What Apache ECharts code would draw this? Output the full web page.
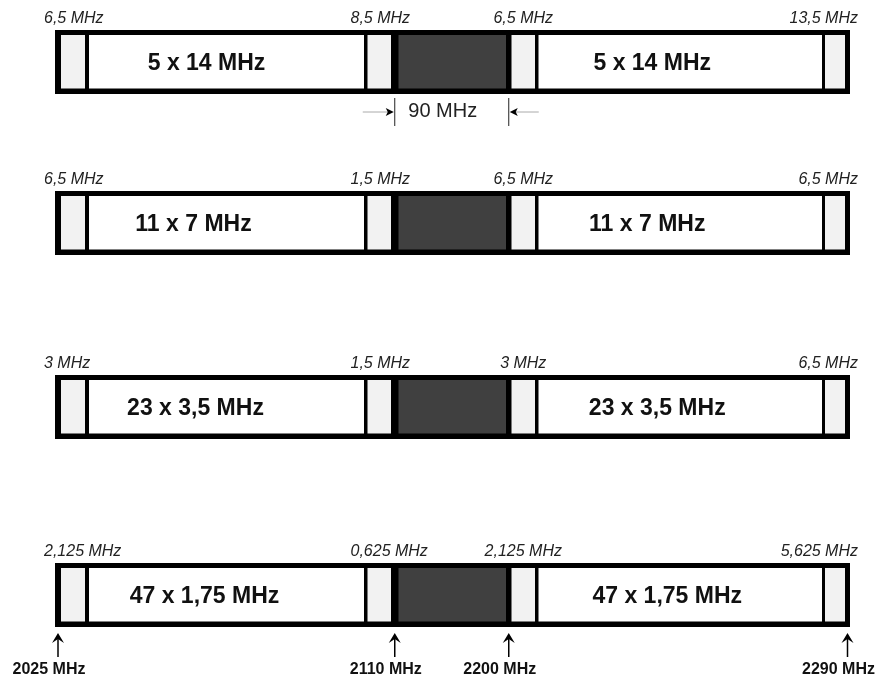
<!DOCTYPE html>
<html>
<head>
<meta charset="utf-8">
<script src="https://cdn.jsdelivr.net/npm/echarts@6/dist/echarts.min.js"></script>
<style>
  html, body { margin: 0; padding: 0; background: #ffffff; }
  #chart { width: 878px; height: 680px; }
</style>
</head>
<body>
<div id="chart"></div>
<script>
// ---------------- data ----------------
const channelCounts   = [5, 11, 23, 47];          // channels per half-band, per row
const channelWidths   = [14, 7, 3.5, 1.75];       // MHz per channel
const lowerGuardStart = [6.5, 6.5, 3, 2.125];     // MHz, guard at 2025 MHz side
const lowerGuardEnd   = [8.5, 1.5, 1.5, 0.625];   // MHz, guard at 2110 MHz side
const upperGuardStart = [6.5, 6.5, 3, 2.125];     // MHz, guard at 2200 MHz side
const upperGuardEnd   = [13.5, 6.5, 6.5, 5.625];  // MHz, guard at 2290 MHz side
const bandEdges       = [2025, 2110, 2200, 2290]; // MHz markers

// ---------------- schematic layout (diagram is not to scale) ----------------
// drawing widths of the strips of one band-plan bar, in schematic units
const SEGMENTS = [
  ['border', 6], ['guard', 24], ['sep', 4], ['chan', 275], ['sep', 3.5],
  ['guard', 23.5], ['sep', 7.5], ['gap', 107.5], ['sep', 5.5], ['guard', 23.5],
  ['sep', 3.5], ['chan', 283.5], ['sep', 3], ['guard', 20], ['border', 5]
];
const EDGE_SEGMENT = [0, 6, 8, 14];   // black strips where the band edges sit
const ROW_TOP = [30, 191, 375, 563];
const ROW_H = 64;
const FONT = '"Liberation Sans", Arial, Helvetica, sans-serif';

// guard label anchoring per slot
const GUARD_LABEL = [
  { ref: 'x0', dx: -17, align: 'left' },
  { ref: 'x0', dx: -17, align: 'left' },
  { ref: 'mid', dx: 0, align: 'center' },
  { ref: 'x1', dx: 13, align: 'right' }
];
// channel label offset from the block centre, per row [left, right]
const CHAN_LABEL_DX = [[-20, -28], [-33, -33], [-31, -23], [-22, -13]];

// ---------------- derived ----------------
let acc = 0;
const segs = SEGMENTS.map(([kind, w]) => { const s = { kind, x0: acc, x1: acc + w }; acc += w; return s; });
const TOTAL = acc;
const edgeX = EDGE_SEGMENT.map(i => (segs[i].x0 + segs[i].x1) / 2);
const fmt = v => String(v).replace('.', ',') + ' MHz';

const rowItems = [{ kind: 'frame', x0: 0, x1: TOTAL }];
let gSlot = 0, cSlot = 0;
segs.forEach(s => {
  if (s.kind === 'guard') rowItems.push({ kind: 'guard', x0: s.x0, x1: s.x1, slot: gSlot++ });
  else if (s.kind === 'chan') rowItems.push({ kind: 'chan', x0: s.x0, x1: s.x1, slot: cSlot++ });
  else if (s.kind === 'gap') rowItems.push({ kind: 'gap', x0: s.x0, x1: s.x1 });
});

const guardValues = channelCounts.map((_, r) =>
  [lowerGuardStart[r], lowerGuardEnd[r], upperGuardStart[r], upperGuardEnd[r]]);

function rowRender(r) {
  return function (params, api) {
    const it = rowItems[params.dataIndex];
    const a = api.coord([api.value(0), 1]);
    const b = api.coord([api.value(1), 0]);
    const x = a[0], w = b[0] - a[0], top = a[1], bot = b[1];
    if (it.kind === 'frame') {
      return { type: 'rect', shape: { x: x, y: top, width: w, height: bot - top }, style: { fill: '#000000' } };
    }
    const fill = it.kind === 'gap' ? '#404040' : (it.kind === 'guard' ? '#f2f2f2' : '#ffffff');
    const children = [{
      type: 'rect', shape: { x: x, y: top + 5, width: w, height: bot - top - 10.5 }, style: { fill: fill }
    }];
    if (it.kind === 'guard') {
      const st = GUARD_LABEL[it.slot];
      const tx = st.ref === 'x0' ? x : (st.ref === 'x1' ? x + w : x + w / 2);
      children.push({
        type: 'text',
        style: {
          text: fmt(guardValues[r][it.slot]), x: tx + st.dx, y: top - 11,
          align: st.align, verticalAlign: 'middle',
          fontStyle: 'italic', fontSize: 16, fontFamily: FONT, fill: '#222222'
        }
      });
    }
    if (it.kind === 'chan') {
      children.push({
        type: 'text',
        style: {
          text: channelCounts[r] + ' x ' + fmt(channelWidths[r]),
          x: x + w / 2 + CHAN_LABEL_DX[r][it.slot], y: (top + bot) / 2 + 2,
          align: 'center', verticalAlign: 'middle',
          fontWeight: 'bold', fontSize: 23, fontFamily: FONT, fill: '#111111'
        }
      });
    }
    return { type: 'group', children: children };
  };
}

function markerRender(params, api) {
  const p = api.coord([api.value(0), 0]);
  const x = p[0], tip = p[1] + 6;
  return {
    type: 'group',
    children: [
      { type: 'line', shape: { x1: x, y1: tip + 3, x2: x, y2: tip + 24 }, style: { stroke: '#000', lineWidth: 1.5 } },
      { type: 'polygon', shape: { points: [[x, tip], [x - 6, tip + 10], [x, tip + 6], [x + 6, tip + 10]] }, style: { fill: '#000' } },
      {
        type: 'text',
        style: {
          text: api.value(1) + ' MHz', x: x - 9, y: p[1] + 43, align: 'center', verticalAlign: 'middle',
          fontWeight: 'bold', fontSize: 16, fontFamily: FONT, fill: '#111111'
        }
      }
    ]
  };
}

function dimensionRender(params, api) {
  const a = api.coord([api.value(0), 0]);
  const b = api.coord([api.value(1), 0]);
  const x1 = a[0], x2 = b[0], bot = a[1];
  const y = bot + 18;
  return {
    type: 'group',
    children: [
      { type: 'line', shape: { x1: x1, y1: bot + 4, x2: x1, y2: bot + 32 }, style: { stroke: '#222', lineWidth: 1 } },
      { type: 'line', shape: { x1: x2, y1: bot + 4, x2: x2, y2: bot + 32 }, style: { stroke: '#222', lineWidth: 1 } },
      { type: 'line', shape: { x1: x1 - 32, y1: y, x2: x1 - 3, y2: y }, style: { stroke: '#aaaaaa', lineWidth: 1 } },
      { type: 'line', shape: { x1: x2 + 3, y1: y, x2: x2 + 30, y2: y }, style: { stroke: '#aaaaaa', lineWidth: 1 } },
      { type: 'polygon', shape: { points: [[x1 - 1, y], [x1 - 9, y - 4], [x1 - 7, y], [x1 - 9, y + 4]] }, style: { fill: '#000' } },
      { type: 'polygon', shape: { points: [[x2 + 1, y], [x2 + 9, y - 4], [x2 + 7, y], [x2 + 9, y + 4]] }, style: { fill: '#000' } },
      {
        type: 'text',
        style: {
          text: fmt(api.value(2)), x: (x1 + x2) / 2 - 9, y: bot + 17, align: 'center', verticalAlign: 'middle',
          fontSize: 20, fontFamily: FONT, fill: '#222222'
        }
      }
    ]
  };
}

const grids = ROW_TOP.map(t => ({ left: 55, top: t, width: TOTAL, height: ROW_H }));
const xAxes = ROW_TOP.map((_, i) => ({ type: 'value', gridIndex: i, min: 0, max: TOTAL, show: false }));
const yAxes = ROW_TOP.map((_, i) => ({ type: 'value', gridIndex: i, min: 0, max: 1, show: false }));

const series = ROW_TOP.map((_, r) => ({
  type: 'custom', name: 'row' + r, xAxisIndex: r, yAxisIndex: r,
  renderItem: rowRender(r), silent: true,
  data: rowItems.map(it => [it.x0, it.x1])
}));

series.push({
  type: 'custom', name: 'edges', xAxisIndex: 3, yAxisIndex: 3, silent: true,
  renderItem: markerRender,
  data: bandEdges.map((f, i) => [edgeX[i], f])
});

series.push({
  type: 'custom', name: 'duplex', xAxisIndex: 0, yAxisIndex: 0, silent: true,
  renderItem: dimensionRender,
  data: [[edgeX[1], edgeX[2], bandEdges[2] - bandEdges[1]]]
});

const chart = echarts.init(document.getElementById('chart'));
chart.setOption({
  animation: false,
  backgroundColor: '#ffffff',
  grid: grids,
  xAxis: xAxes,
  yAxis: yAxes,
  series: series
});
</script>
</body>
</html>
